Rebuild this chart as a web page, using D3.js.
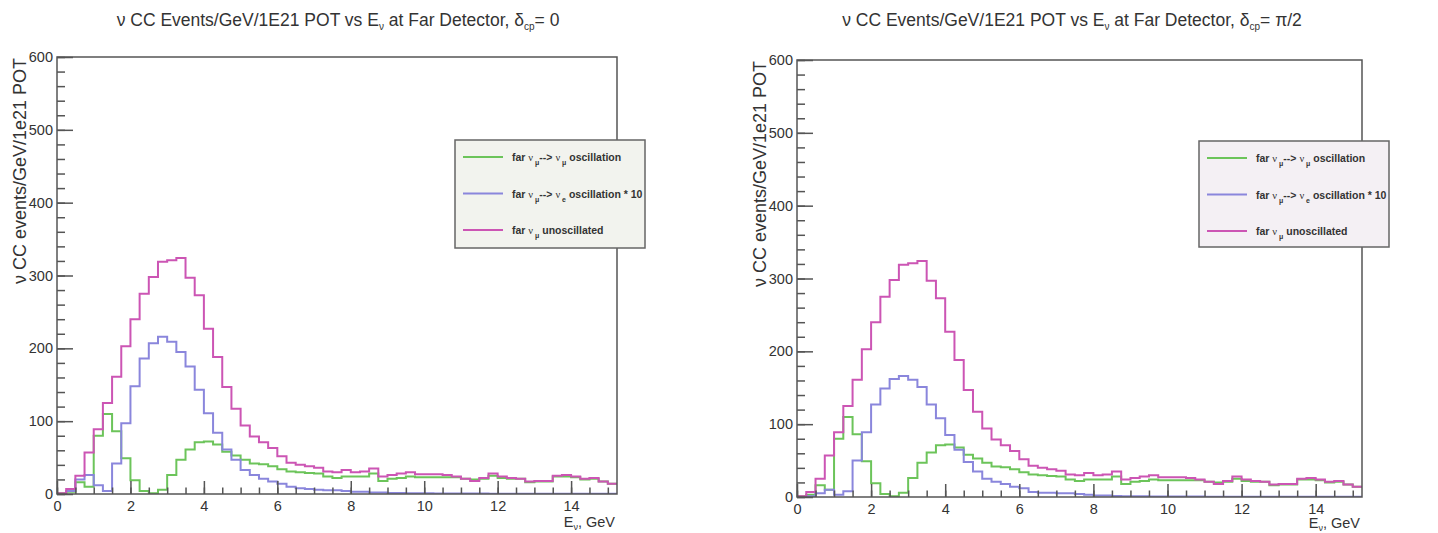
<!DOCTYPE html>
<html>
<head>
<meta charset="utf-8">
<script src="https://cdn.jsdelivr.net/npm/d3@7"></script>
<style>
  body { margin: 0; background: #fff; }
  svg text { font-family: "Liberation Sans", Arial, sans-serif; fill: #333; }
</style>
</head>
<body>
<svg id="chart" width="1438" height="533"></svg>
<script>
// bin width of every histogram, GeV
var binWidth = 0.25

// far numu unoscillated (same for both panels)
var unosc = [1, 7, 25, 57, 89, 125, 161, 203, 240, 275, 298, 319, 321, 324, 297, 273, 227, 188, 147, 117,
    94, 79, 71, 63, 52, 43, 40, 38, 36, 31, 30, 33, 30, 31, 35, 24, 26, 28, 30, 27,
    27, 27, 26, 24, 21, 18, 22, 28, 24, 22, 21, 17, 18, 18, 25, 26, 24, 21, 22, 17, 14]

// far numu -> numu oscillation
var numuOsc = [1, 3, 16, 10, 80, 110, 86, 49, 19, 4, 1, 6, 26, 47, 61, 71, 72, 68, 58, 53,
    47, 42, 41, 38, 34, 31, 30, 29, 28, 24, 22, 24, 24, 24, 28, 18, 21, 22, 24, 23,
    23, 23, 23, 23, 21, 20, 21, 25, 22, 21, 21, 16, 17, 17, 24, 24, 23, 20, 21, 17, 14]

// far numu -> nue oscillation * 10, delta_cp = 0
var nueOsc0 = [0, 4, 20, 26, 12, 4, 42, 97, 148, 186, 207, 216, 209, 195, 175, 143, 111, 84, 61, 47,
    33, 26, 21, 17, 14, 10, 8, 7, 6, 5, 5, 4, 3, 3, 2, 2, 1.5, 1.5, 1.2, 1,
    1, 0.8, 0.8, 0.7, 0.7, 0.6, 0.6, 0.5, 0.5, 0.5, 0.4, 0.4, 0.4, 0.3, 0.3, 0.3, 0.3, 0.3, 0.3, 0.3, 0.2]

// far numu -> nue oscillation * 10, delta_cp = pi/2
var nueOscPi2 = [0, 1, 5, 10, 3, 8, 50, 89, 127, 149, 162, 166, 161, 151, 127, 108, 85, 65, 48, 35,
    25, 21, 18, 14, 12, 7, 6, 6, 5, 5, 4, 3, 2, 2, 1.5, 1.2, 1, 1, 0.8, 0.8,
    0.7, 0.7, 0.6, 0.6, 0.5, 0.5, 0.5, 0.4, 0.4, 0.4, 0.3, 0.3, 0.3, 0.3, 0.3, 0.3, 0.2, 0.2, 0.2, 0.2, 0.2]

var xMajor = [0, 2, 4, 6, 8, 10, 12, 14]
var yMajor = [0, 100, 200, 300, 400, 500, 600]

var colors = { numu: '#6cc45a', nue: '#8a86dc', unosc: '#cc55b4' }

var svg = d3.select('#chart')

function histPoints(values) {
    var pts = values.map(function (v, i) { return [i * binWidth, v] })
    pts.push([values.length * binWidth, values[values.length - 1]])
    return pts
}

function drawPanel(p) {
    var g = svg.append('g')
    var x = d3.scaleLinear().domain([0, 15.25]).range([p.left, p.right])
    var y = d3.scaleLinear().domain([0, 600]).range([p.bottom, p.top])

    // title
    var t = g.append('text')
        .attr('x', p.titleX).attr('y', 26)
        .attr('text-anchor', 'middle')
        .style('font-size', '17.5px')
    t.append('tspan').text('ν CC Events/GeV/1E21 POT vs E')
    t.append('tspan').attr('dy', 4).style('font-size', '10px').text('ν')
    t.append('tspan').attr('dy', -4).text(' at Far Detector, δ')
    t.append('tspan').attr('dy', 4).style('font-size', '10px').text('cp')
    t.append('tspan').attr('dy', -4).text('= ' + p.delta)

    // histograms
    var clipId = 'clip' + p.id
    g.append('clipPath').attr('id', clipId)
        .append('rect')
        .attr('x', p.left).attr('y', p.top)
        .attr('width', p.right - p.left).attr('height', p.bottom - p.top)

    var line = d3.line()
        .x(function (d) { return x(d[0]) })
        .y(function (d) { return y(d[1]) })
        .curve(d3.curveStepAfter)

    var series = [
        { values: numuOsc, color: colors.numu },
        { values: p.nue, color: colors.nue },
        { values: unosc, color: colors.unosc }
    ]
    g.append('g').attr('clip-path', 'url(#' + clipId + ')')
        .selectAll('path')
        .data(series)
        .enter().append('path')
        .attr('d', function (d) { return line(histPoints(d.values)) })
        .attr('fill', 'none')
        .attr('stroke', function (d) { return d.color })
        .attr('stroke-width', 2)

    // axes, ticks drawn inward like ROOT
    var yAxis = g.append('g').attr('transform', 'translate(' + p.left + ',0)')
        .call(d3.axisLeft(y).tickValues(yMajor).tickSize(-16).tickPadding(4))
    var yMinor = g.append('g').attr('transform', 'translate(' + p.left + ',0)')
        .call(d3.axisLeft(y).tickValues(d3.range(0, 601, 20)).tickSize(-8).tickFormat(''))
    var xAxis = g.append('g').attr('transform', 'translate(0,' + p.bottom + ')')
        .call(d3.axisBottom(x).tickValues(xMajor).tickSize(-13).tickPadding(7))
    var xMinor = g.append('g').attr('transform', 'translate(0,' + p.bottom + ')')
        .call(d3.axisBottom(x).tickValues(d3.range(0, 15.01, 0.5)).tickSize(-6.5).tickFormat(''))

    ;[yAxis, yMinor, xAxis, xMinor].forEach(function (a) {
        a.select('.domain').remove()
        a.selectAll('line').attr('stroke', '#555').attr('stroke-width', 1.5)
        a.selectAll('text').style('font-size', '14.5px').style('font-family', '"Liberation Sans", Arial, sans-serif').attr('fill', '#333')
    })

    // frame
    g.append('rect')
        .attr('x', p.left).attr('y', p.top)
        .attr('width', p.right - p.left).attr('height', p.bottom - p.top)
        .attr('fill', 'none').attr('stroke', '#555').attr('stroke-width', 1.5)

    // axis titles
    g.append('text')
        .attr('transform', 'translate(' + (p.left - 31) + ',' + (p.top + 1) + ') rotate(-90)')
        .attr('text-anchor', 'end')
        .style('font-size', '18px')
        .text('ν CC events/GeV/1e21 POT')

    var xt = g.append('text')
        .attr('x', p.right - 2).attr('y', p.xTitleY)
        .attr('text-anchor', 'end')
        .style('font-size', '14.5px')
    xt.append('tspan').text('E')
    xt.append('tspan').attr('dy', 3).style('font-size', '9px').text('ν')
    xt.append('tspan').attr('dy', -3).text(', GeV')

    // legend
    var lg = g.append('g')
    lg.append('rect')
        .attr('x', p.legX).attr('y', p.legY)
        .attr('width', p.legW).attr('height', p.legH)
        .attr('fill', p.legBg).attr('stroke', '#666').attr('stroke-width', 1.5)

    var entries = [
        { color: colors.numu, a: 'μ', b: 'μ', rest: ' oscillation' },
        { color: colors.nue, a: 'μ', b: 'e', rest: ' oscillation * 10' },
        { color: colors.unosc, a: 'μ', b: null, rest: ' unoscillated' }
    ]
    entries.forEach(function (e, i) {
        var yy = p.legY + 17 + i * 36.5
        lg.append('line')
            .attr('x1', p.legX + 8).attr('x2', p.legX + 48)
            .attr('y1', yy).attr('y2', yy)
            .attr('stroke', e.color).attr('stroke-width', 2)
        var tx = lg.append('text')
            .attr('x', p.legX + 57).attr('y', yy + 4)
            .style('font-size', '10.5px').style('font-weight', 'bold')
        tx.append('tspan').text('far ')
        tx.append('tspan').style('font-family', '"Liberation Serif", serif').style('font-weight', 'normal').text('ν')
        tx.append('tspan').attr('dy', 4).style('font-size', '7px').text(' ' + e.a)
        if (e.b) {
            tx.append('tspan').attr('dy', -4).text('--> ')
            tx.append('tspan').style('font-family', '"Liberation Serif", serif').style('font-weight', 'normal').text('ν')
            tx.append('tspan').attr('dy', 4).style('font-size', '7px').text(' ' + e.b)
            tx.append('tspan').attr('dy', -4).text(e.rest)
        } else {
            tx.append('tspan').attr('dy', -4).text(e.rest)
        }
    })
}

drawPanel({
    id: 'L', left: 57, right: 617, top: 57, bottom: 494, titleX: 338, delta: '0',
    nue: nueOsc0, xTitleY: 527,
    legX: 455, legY: 140, legW: 190, legH: 108, legBg: '#f2f3ee'
})
drawPanel({
    id: 'R', left: 797, right: 1362, top: 60, bottom: 497, titleX: 1072, delta: 'π/2',
    nue: nueOscPi2, xTitleY: 528,
    legX: 1199, legY: 141, legW: 190, legH: 106, legBg: '#f4f0f4'
})
</script>
</body>
</html>
